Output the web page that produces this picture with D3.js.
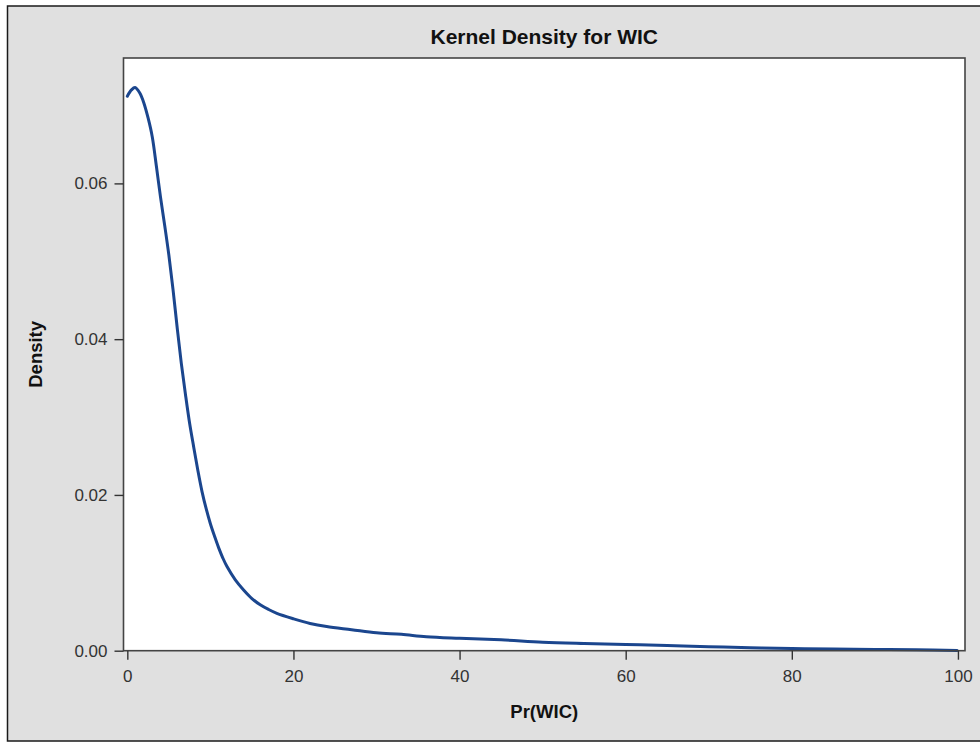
<!DOCTYPE html>
<html>
<head>
<meta charset="utf-8">
<script src="https://cdn.jsdelivr.net/npm/d3@7"></script>
<style>
  html, body { margin: 0; padding: 0; background: #ffffff; }
  svg { display: block; font-family: "Liberation Sans", Arial, sans-serif; }
</style>
</head>
<body>
<svg id="chart" width="980" height="742"></svg>
<script>
// ---- data ----
const chartTitle = "Kernel Density for WIC";
const xLabel = "Pr(WIC)";
const yLabel = "Density";
const xTicks = [0, 20, 40, 60, 80, 100];
const yTicks = [0.00, 0.02, 0.04, 0.06];
const xValues = [0, 0.5, 0.93, 1.5, 2.0, 2.5, 3.0, 3.5, 4.0, 4.5, 5.0, 5.5, 6.0, 6.5, 7.0, 7.5,
  8.0, 8.5, 9.0, 9.5, 10, 10.5, 11, 11.5, 12, 13, 14, 15, 16, 17, 18, 20, 22, 24, 27, 30,
  33, 36, 40, 45, 50, 55, 60, 65, 70, 75, 80, 85, 90, 95, 99.9];
const densityValues = [0.0712, 0.0720, 0.0723, 0.0716, 0.0703, 0.0684, 0.0660, 0.0622, 0.0582,
  0.0546, 0.0508, 0.0464, 0.0415, 0.0369, 0.0329, 0.0292, 0.0261, 0.0231, 0.0204, 0.0182,
  0.0163, 0.0147, 0.0132, 0.0119, 0.0108, 0.0091, 0.0078, 0.0067, 0.0059, 0.0053, 0.0048,
  0.0041, 0.0035, 0.0031, 0.0027, 0.0023, 0.0021, 0.0018, 0.0016, 0.0014, 0.0011, 0.00093,
  0.00080, 0.00066, 0.00051, 0.00038, 0.00028, 0.00023, 0.00017, 0.00012, 0.00003];

// ---- layout ----
const svg = d3.select("#chart");
const plot = { left: 123.5, right: 965, top: 58, bottom: 650.7 };

// background panel with outer border
svg.append("rect")
  .attr("x", 7.5).attr("y", 6).attr("width", 990).attr("height", 735)
  .attr("fill", "#e0e0e0").attr("stroke", "#1a1a1a").attr("stroke-width", 1.5);

// plot wall
svg.append("rect")
  .attr("x", plot.left).attr("y", plot.top)
  .attr("width", plot.right - plot.left).attr("height", plot.bottom - plot.top)
  .attr("fill", "#ffffff");

const x = d3.scaleLinear().domain([-0.46, 100.85]).range([plot.left, plot.right]);
const y = d3.scaleLinear().domain([0, 0.0761]).range([plot.bottom, plot.top]);

// curve
const data = xValues.map((v, i) => ({ x: v, y: densityValues[i] }));
const line = d3.line().x(d => x(d.x)).y(d => y(d.y)).curve(d3.curveCatmullRom.alpha(0.5));
svg.append("path")
  .datum(data)
  .attr("d", line)
  .attr("fill", "none")
  .attr("stroke", "#1b468e")
  .attr("stroke-width", 3)
  .attr("stroke-linejoin", "round")
  .attr("stroke-linecap", "round");

// frame
svg.append("rect")
  .attr("x", plot.left).attr("y", plot.top)
  .attr("width", plot.right - plot.left).attr("height", plot.bottom - plot.top)
  .attr("fill", "none").attr("stroke", "#444444").attr("stroke-width", 1.6);

// x axis
const xAxis = d3.axisBottom(x).tickValues(xTicks).tickFormat(d3.format("d"))
  .tickSizeInner(9).tickSizeOuter(0).tickPadding(10);
const gx = svg.append("g").attr("transform", `translate(0,${plot.bottom})`).call(xAxis);
gx.select(".domain").remove();
gx.selectAll(".tick line").attr("stroke", "#333").attr("stroke-width", 1.4);
gx.selectAll(".tick text").attr("fill", "#333").style("font-size", "17px")
  .style("font-family", "'Liberation Sans', Arial, sans-serif");

// y axis
const yAxis = d3.axisLeft(y).tickValues(yTicks).tickFormat(d3.format(".2f"))
  .tickSizeInner(9).tickSizeOuter(0).tickPadding(7);
const gy = svg.append("g").attr("transform", `translate(${plot.left},0)`).call(yAxis);
gy.select(".domain").remove();
gy.selectAll(".tick line").attr("stroke", "#333").attr("stroke-width", 1.4);
gy.selectAll(".tick text").attr("fill", "#333").style("font-size", "17px")
  .style("font-family", "'Liberation Sans', Arial, sans-serif");

// title
svg.append("text")
  .attr("x", (plot.left + plot.right) / 2).attr("y", 44)
  .attr("text-anchor", "middle")
  .style("font-size", "21px").style("font-weight", "bold").attr("fill", "#111")
  .text(chartTitle);

// axis labels
svg.append("text")
  .attr("x", (plot.left + plot.right) / 2).attr("y", 718)
  .attr("text-anchor", "middle")
  .style("font-size", "18.5px").style("font-weight", "bold").attr("fill", "#111")
  .text(xLabel);

svg.append("text")
  .attr("transform", `translate(42,${(plot.top + plot.bottom) / 2}) rotate(-90)`)
  .attr("text-anchor", "middle")
  .style("font-size", "18.5px").style("font-weight", "bold").attr("fill", "#111")
  .text(yLabel);
</script>
</body>
</html>
